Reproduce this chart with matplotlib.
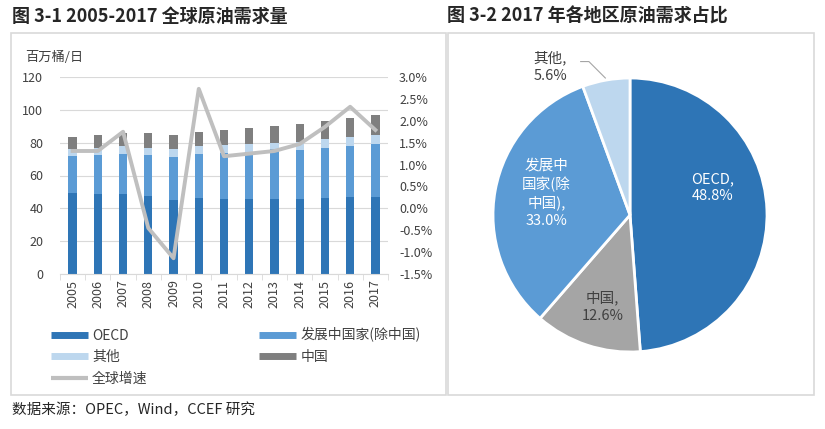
import matplotlib
matplotlib.use('Agg')
import matplotlib.pyplot as plt
from matplotlib.patches import Rectangle
from matplotlib.lines import Line2D
from matplotlib.ticker import FuncFormatter

plt.rcParams['font.family'] = ['Noto Sans CJK SC', 'DejaVu Sans']

# 图 3-1 数据 (百万桶/日)
years = ['2005', '2006', '2007', '2008', '2009', '2010', '2011',
         '2012', '2013', '2014', '2015', '2016', '2017']
oecd = [49.2, 49.0, 48.8, 47.6, 45.1, 46.2, 45.7, 45.7, 45.7, 45.7, 46.2, 47.2, 47.2]
developing = [22.7, 23.5, 24.2, 24.9, 26.2, 26.8, 28.2, 28.8, 30.2, 29.8, 30.7, 30.9, 31.9]
others = [4.0, 4.0, 5.0, 4.5, 5.0, 5.0, 4.6, 4.6, 4.1, 5.1, 5.5, 5.5, 5.4]
china = [7.3, 7.9, 7.6, 8.6, 8.3, 8.8, 9.5, 9.8, 10.1, 10.7, 10.7, 11.5, 12.2]
growth = [1.31, 1.31, 1.75, -0.45, -1.14, 2.73, 1.19, 1.25, 1.31, 1.47, 1.86, 2.32, 1.79]

# 图 3-2 数据
pie_labels = ['OECD', '中国', '发展中\n国家(除\n中国)', '其他']
pie_shares = [48.8, 12.6, 33.0, 5.6]

c_oecd = '#2E75B6'
c_dev = '#5B9BD5'
c_oth = '#BDD7EE'
c_cn = '#7F7F7F'
c_line = '#BFBFBF'
txt = '#404040'

W, H = 825, 429
fig = plt.figure(figsize=(W / 100, H / 100), dpi=100)


def fx(px):
    return px / W


def fy(py):
    return 1 - py / H


# 面板边框
for x0, x1 in [(11, 446), (448, 814)]:
    fig.patches.append(Rectangle((fx(x0), fy(395)), fx(x1 - x0), (395 - 33) / H,
                                 transform=fig.transFigure, fill=False,
                                 edgecolor='#D9D9D9', linewidth=1.2))

fig.text(fx(12), fy(16), '图 3-1 2005-2017 全球原油需求量', fontsize=13,
         fontweight='bold', color='#262626', va='center')
fig.text(fx(447), fy(16), '图 3-2 2017 年各地区原油需求占比', fontsize=13,
         fontweight='bold', color='#262626', va='center')
fig.text(fx(12), fy(410), '数据来源：OPEC，Wind，CCEF 研究', fontsize=10.5,
         color='#262626', va='center')

# 左图：堆积柱状图 + 增速折线
ax = fig.add_axes([fx(60), fy(274), fx(388 - 60), (274 - 77) / H])
x = list(range(len(years)))
bw = 0.33
b1 = [o + d for o, d in zip(oecd, developing)]
b2 = [b + t for b, t in zip(b1, others)]
ax.bar(x, oecd, bw, color=c_oecd, zorder=2)
ax.bar(x, developing, bw, bottom=oecd, color=c_dev, zorder=2)
ax.bar(x, others, bw, bottom=b1, color=c_oth, zorder=2)
ax.bar(x, china, bw, bottom=b2, color=c_cn, zorder=2)
ax.set_ylim(0, 120)
ax.set_yticks(range(0, 121, 20))
ax.set_xlim(-0.5, len(years) - 0.5)
ax.set_xticks(x)
ax.set_xticklabels(years, rotation=90, fontsize=9, color=txt)
ax.set_xticks([i - 0.5 for i in range(len(years) + 1)], minor=True)
ax.tick_params(axis='x', which='major', length=0, pad=4)
ax.tick_params(axis='x', which='minor', length=4, color='#D9D9D9')
ax.tick_params(axis='y', length=0, labelsize=9, labelcolor=txt, pad=12)
ax.grid(axis='y', color='#D9D9D9', linewidth=0.8, zorder=0)
for s in ['top', 'right', 'left']:
    ax.spines[s].set_visible(False)
ax.spines['bottom'].set_color('#D9D9D9')
fig.text(fx(25), fy(57), '百万桶/日', fontsize=9.5, color=txt, va='center')

ax2 = ax.twinx()
ax2.plot(x, growth, color=c_line, linewidth=2.8, zorder=3)
ax2.set_ylim(-1.5, 3.0)
ax2.set_yticks([-1.5, -1.0, -0.5, 0.0, 0.5, 1.0, 1.5, 2.0, 2.5, 3.0])
ax2.yaxis.set_major_formatter(FuncFormatter(lambda v, p: f'{v:.1f}%'))
ax2.tick_params(axis='y', length=0, labelsize=9, labelcolor=txt, pad=8)
for s in ax2.spines.values():
    s.set_visible(False)

handles = [Line2D([], [], color=c_oecd, linewidth=5, solid_capstyle='butt'),
           Line2D([], [], color=c_oth, linewidth=5, solid_capstyle='butt'),
           Line2D([], [], color=c_line, linewidth=3, solid_capstyle='butt'),
           Line2D([], [], color=c_dev, linewidth=5, solid_capstyle='butt'),
           Line2D([], [], color=c_cn, linewidth=5, solid_capstyle='butt')]
names = ['OECD', '其他', '全球增速', '发展中国家(除中国)', '中国']
fig.legend(handles, names, ncol=2, loc='upper left',
           bbox_to_anchor=(fx(38), fy(315)), frameon=False, fontsize=10,
           handlelength=2.7, handletextpad=0.3, columnspacing=8.0,
           labelspacing=0.55, labelcolor=txt)

# 右图：饼图
pr = 137
pax = fig.add_axes([fx(630 - pr), fy(215 + pr), fx(2 * pr), 2 * pr / H])
colors = [c_oecd, '#A5A5A5', c_dev, c_oth]
wedges, _ = pax.pie(pie_shares, colors=colors, startangle=90, counterclock=False,
                    wedgeprops=dict(edgecolor='white', linewidth=2))
pax.set_aspect('equal')
pax.set_xlim(-1, 1)
pax.set_ylim(-1, 1)
pax.axis('off')

lab_pos = [(0.6, 0.2, 'white'), (-0.2, -0.67, txt), (-0.61, 0.16, 'white')]
for (lx, ly, col), name, v in zip(lab_pos, pie_labels[:3], pie_shares[:3]):
    pax.text(lx, ly, f'{name},\n{v:.1f}%', ha='center', va='center',
             fontsize=10.5, color=col, linespacing=1.3)
pax.text(-0.58, 1.08, f'{pie_labels[3]},\n{pie_shares[3]:.1f}%', ha='center',
         va='center', fontsize=10.5, color=txt, linespacing=1.3)
pax.plot([-0.36, -0.3, -0.18], [1.12, 1.12, 1.0], color='#A5A5A5',
         linewidth=0.8, clip_on=False)

fig.savefig('out.png', dpi=100, facecolor='white')
